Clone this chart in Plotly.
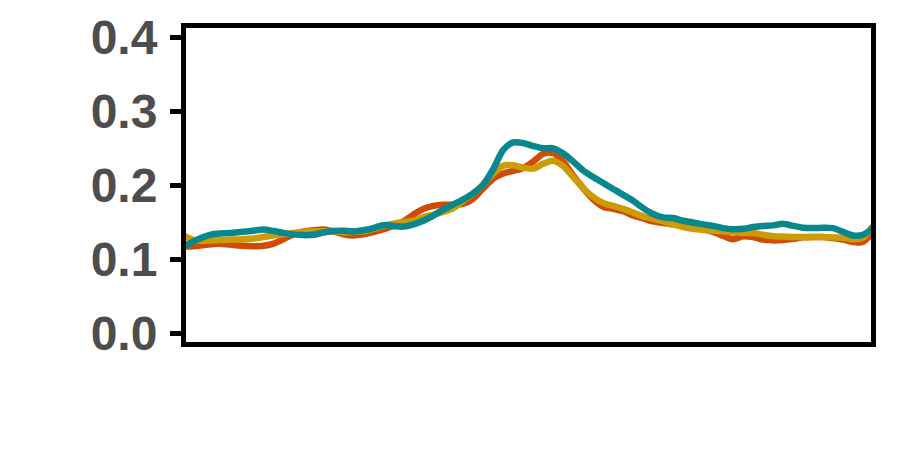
import plotly.graph_objects as go

# bin index along the profile (70 evenly spaced bins)
bins = list(range(70))

orange_vals = [
    0.117, 0.1175, 0.119, 0.1205, 0.1205, 0.119, 0.118, 0.1175, 0.118, 0.121,
    0.127, 0.1335, 0.137, 0.139, 0.140, 0.1375, 0.1335, 0.132, 0.1335, 0.1365,
    0.1405, 0.145, 0.151, 0.160, 0.168, 0.172, 0.1736, 0.1735, 0.175, 0.182,
    0.196, 0.209, 0.216, 0.2195, 0.2232, 0.232, 0.2426, 0.2435, 0.232, 0.213,
    0.196, 0.181, 0.171, 0.168, 0.165, 0.159, 0.155, 0.151, 0.149, 0.147,
    0.1445, 0.142, 0.1405, 0.137, 0.1315, 0.127, 0.131, 0.130, 0.1265, 0.1254,
    0.126, 0.1275, 0.1295, 0.130, 0.130, 0.1285, 0.1264, 0.123, 0.1235, 0.137,
]

gold_vals = [
    0.132, 0.126, 0.1245, 0.1255, 0.126, 0.1265, 0.127, 0.128, 0.130, 0.132,
    0.1335, 0.1355, 0.137, 0.1376, 0.1376, 0.1375, 0.1365, 0.137, 0.1376, 0.141,
    0.145, 0.148, 0.150, 0.152, 0.157, 0.160, 0.164, 0.169, 0.179, 0.189,
    0.201, 0.216, 0.2265, 0.227, 0.224, 0.2225, 0.229, 0.233, 0.226, 0.211,
    0.196, 0.184, 0.176, 0.172, 0.168, 0.163, 0.158, 0.1545, 0.151, 0.147,
    0.1435, 0.141, 0.1395, 0.1385, 0.1376, 0.1365, 0.1355, 0.1354, 0.133, 0.131,
    0.1305, 0.130, 0.130, 0.130, 0.130, 0.1295, 0.129, 0.127, 0.129, 0.145,
]

teal_vals = [
    0.117, 0.124, 0.130, 0.134, 0.135, 0.1357, 0.137, 0.1385, 0.140, 0.138,
    0.1355, 0.1335, 0.1325, 0.133, 0.136, 0.138, 0.1385, 0.1375, 0.139, 0.142,
    0.146, 0.145, 0.144, 0.147, 0.152, 0.159, 0.167, 0.174, 0.181, 0.189,
    0.201, 0.222, 0.248, 0.258, 0.257, 0.253, 0.250, 0.250, 0.243, 0.232,
    0.220, 0.211, 0.203, 0.195, 0.187, 0.179, 0.169, 0.161, 0.1565, 0.1557,
    0.152, 0.1495, 0.147, 0.145, 0.142, 0.1405, 0.141, 0.1435, 0.145, 0.1457,
    0.148, 0.145, 0.1425, 0.142, 0.1425, 0.142, 0.137, 0.132, 0.133, 0.142,
]

y_ticks = [0.0, 0.1, 0.2, 0.3, 0.4]
y_tick_text = ["0.0", "0.1", "0.2", "0.3", "0.4"]

series = [
    ("orange", orange_vals, "#D14B04"),
    ("gold", gold_vals, "#CC9B05"),
    ("teal", teal_vals, "#08888E"),
]

fig = go.Figure()
for name, vals, color in series:
    fig.add_trace(go.Scatter(
        x=bins, y=vals, mode="lines", name=name,
        line=dict(color=color, width=6.5, shape="spline", smoothing=0.8),
        showlegend=False, hoverinfo="skip",
    ))

fig.update_layout(
    width=900, height=450,
    margin=dict(l=186, r=28.5, t=28, b=107.5),
    paper_bgcolor="white", plot_bgcolor="white",
    font=dict(family="Liberation Sans, Arial, sans-serif"),
)
fig.update_xaxes(
    range=[0.25, 68.8],
    showgrid=False, zeroline=False,
    showticklabels=False, ticks="",
    showline=True, linecolor="black", linewidth=5, mirror=True,
)
fig.update_yaxes(
    range=[-0.01216, 0.41284],
    tickvals=y_ticks, ticktext=y_tick_text,
    showgrid=False, zeroline=False,
    ticks="outside", ticklen=11, tickwidth=5, tickcolor="black",
    ticklabelstandoff=3,
    tickfont=dict(family="Liberation Sans, Arial, sans-serif", size=48, color="#4D4D4D", weight="bold"),
    showline=True, linecolor="black", linewidth=5, mirror=True,
)

fig.write_html("out.html")
